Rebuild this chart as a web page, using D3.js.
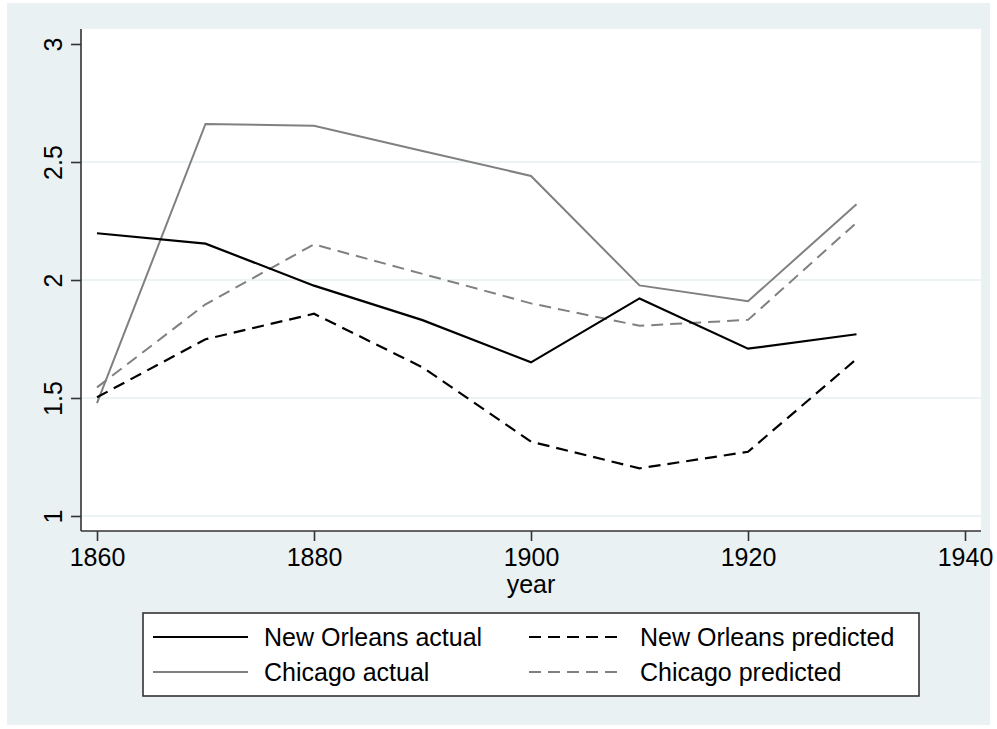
<!DOCTYPE html>
<html>
<head>
<meta charset="utf-8">
<script src="https://cdn.jsdelivr.net/npm/d3@7"></script>
<style>
  html, body { margin: 0; padding: 0; background: #ffffff; }
  svg { display: block; }
  text { font-family: "Liberation Sans", Arial, Helvetica, sans-serif; fill: #000; }
</style>
</head>
<body>
<svg id="chart" width="997" height="729"></svg>
<script>
const years = [1860, 1870, 1880, 1890, 1900, 1910, 1920, 1930];
const newOrleansActual    = [2.198, 2.154, 1.976, 1.83, 1.651, 1.922, 1.709, 1.770];
const newOrleansPredicted = [1.503, 1.749, 1.857, 1.63, 1.315, 1.202, 1.272, 1.665];
const chicagoActual       = [1.478, 2.661, 2.654, 2.547, 2.441, 1.977, 1.910, 2.321];
const chicagoPredicted    = [1.545, 1.897, 2.151, 2.026, 1.901, 1.806, 1.831, 2.243];
const seriesNames = ["New Orleans actual", "New Orleans predicted", "Chicago actual", "Chicago predicted"];
const xTicks = [1860, 1880, 1900, 1920, 1940];
const yTicks = [1, 1.5, 2, 2.5, 3];
const gridTicks = [1, 1.5, 2, 2.5];
const xTitle = "year";

const FS = 25;
const series = [
  { name: seriesNames[0], values: newOrleansActual,    color: "#000000", dash: null,   width: 2.2 },
  { name: seriesNames[1], values: newOrleansPredicted, color: "#000000", dash: "12,7", width: 2.2 },
  { name: seriesNames[2], values: chicagoActual,       color: "#808080", dash: null,   width: 2.0 },
  { name: seriesNames[3], values: chicagoPredicted,    color: "#808080", dash: "12,7", width: 2.0 }
];

const svg = d3.select("#chart");
const bg = "#e9f1f3";

svg.append("rect").attr("x", 7).attr("y", 3).attr("width", 983).attr("height", 722).attr("fill", bg);

const plot = { left: 81, right: 981, top: 29, bottom: 531 };
svg.append("rect").attr("x", plot.left).attr("y", plot.top)
  .attr("width", plot.right - plot.left).attr("height", plot.bottom - plot.top).attr("fill", "#fff");

const x = d3.scaleLinear().domain([1860, 1940]).range([97, 965]);
const y = d3.scaleLinear().domain([1, 3]).range([516, 44]);

svg.append("g").selectAll("line").data(gridTicks).join("line")
  .attr("x1", plot.left).attr("x2", plot.right)
  .attr("y1", d => y(d)).attr("y2", d => y(d))
  .attr("stroke", "#e6eff1").attr("stroke-width", 1.6);

const line = d3.line().x((d, i) => x(years[i])).y(d => y(d));
const order = [2, 3, 0, 1];
svg.append("g").selectAll("path").data(order.map(i => series[i])).join("path")
  .attr("d", d => line(d.values))
  .attr("fill", "none")
  .attr("stroke", d => d.color)
  .attr("stroke-width", d => d.width)
  .attr("stroke-dasharray", d => d.dash)
  .attr("stroke-linejoin", "miter");

const yAxis = d3.axisLeft(y).tickValues(yTicks).tickSize(10).tickSizeOuter(0).tickFormat(d3.format("~g"));
const gy = svg.append("g").attr("transform", `translate(${plot.left},0)`).call(yAxis);
gy.select(".domain").attr("d", `M0,${plot.top}V${plot.bottom}`).attr("stroke", "#333").attr("stroke-width", 1.6);
gy.selectAll(".tick line").attr("stroke", "#333").attr("stroke-width", 1.6);
gy.selectAll(".tick text")
  .attr("x", null).attr("dy", null)
  .attr("transform", "translate(-19,0) rotate(-90)")
  .attr("text-anchor", "middle")
  .attr("font-size", FS)
  .attr("font-family", "'Liberation Sans', Arial, sans-serif")
  .attr("fill", "#000");

const xAxis = d3.axisBottom(x).tickValues(xTicks).tickSize(10).tickSizeOuter(0).tickFormat(d3.format("d"));
const gx = svg.append("g").attr("transform", `translate(0,${plot.bottom})`).call(xAxis);
gx.select(".domain").attr("d", `M${plot.left},0H${plot.right}`).attr("stroke", "#333").attr("stroke-width", 1.6);
gx.selectAll(".tick line").attr("stroke", "#333").attr("stroke-width", 1.6);
gx.selectAll(".tick text")
  .attr("y", 35).attr("dy", null)
  .attr("font-size", FS)
  .attr("font-family", "'Liberation Sans', Arial, sans-serif")
  .attr("fill", "#000");

svg.append("text").attr("x", (plot.left + plot.right) / 2).attr("y", 593)
  .attr("text-anchor", "middle").attr("font-size", FS).text(xTitle);

const leg = svg.append("g");
leg.append("rect").attr("x", 143).attr("y", 613).attr("width", 776).attr("height", 83)
  .attr("fill", "#fff").attr("stroke", "#333").attr("stroke-width", 1.6);
const legPos = [
  { lx: 153, tx: 264, ly: 637 },
  { lx: 529, tx: 640, ly: 637 },
  { lx: 153, tx: 264, ly: 672 },
  { lx: 529, tx: 640, ly: 672 }
];
series.forEach((s, i) => {
  const p = legPos[i];
  leg.append("line").attr("x1", p.lx).attr("x2", p.lx + 95).attr("y1", p.ly).attr("y2", p.ly)
    .attr("stroke", s.color).attr("stroke-width", s.width).attr("stroke-dasharray", s.dash);
  leg.append("text").attr("x", p.tx).attr("y", p.ly + 9).attr("font-size", FS).text(s.name);
});
</script>
</body>
</html>
